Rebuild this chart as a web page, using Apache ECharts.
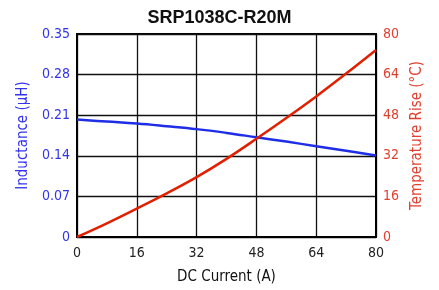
<!DOCTYPE html>
<html><head><meta charset="utf-8">
<script src="https://cdn.jsdelivr.net/npm/echarts@6/dist/echarts.min.js"></script>
<style>html,body{margin:0;padding:0;background:#fff}#c{width:439px;height:290px}</style>
</head><body><div id="c"></div>
<script>
const current = [0, 8, 16, 24, 32, 40, 48, 56, 64, 72, 80];
const inductance = [0.2025, 0.199, 0.1956, 0.191, 0.186, 0.1795, 0.172, 0.1645, 0.1566, 0.1488, 0.1407];
const tempRise = [0, 5.4, 11.2, 17.2, 23.6, 30.8, 38.7, 46.9, 55.4, 64.4, 73.7];
const font = '"Liberation Sans Narrow","DejaVu Sans Condensed",sans-serif';
const chart = echarts.init(document.getElementById('c'));
chart.setOption({
  animation: false,
  title: {text: 'SRP1038C-R20M', left: 'center', top: 4,
    textStyle: {fontFamily: 'Liberation Sans, Arial, sans-serif', fontWeight: 'bold', fontSize: 18, color: '#111'}},
  grid: {left: 77, right: 63, top: 34, bottom: 52, show: true, borderColor: '#000', borderWidth: 2, backgroundColor: 'transparent'},
  xAxis: {type: 'value', min: 0, max: 80, interval: 16,
    name: 'DC Current (A)', nameLocation: 'middle', nameGap: 33,
    nameTextStyle: {fontFamily: font, fontSize: 15, color: '#111'},
    axisLine: {lineStyle: {color: '#000', width: 2}},
    axisTick: {show: false},
    axisLabel: {fontFamily: font, fontSize: 14, color: '#222', margin: 9},
    splitLine: {show: true, lineStyle: {color: '#111', width: 1.3}}},
  yAxis: [
    {type: 'value', min: 0, max: 0.35, interval: 0.07, position: 'left',
     name: 'Inductance (\u00b5H)', nameLocation: 'middle', nameGap: 46,
     nameTextStyle: {fontFamily: font, fontSize: 15, color: '#3333ee'},
     axisLine: {show: true, lineStyle: {color: '#000', width: 2}},
     axisTick: {show: false},
     axisLabel: {fontFamily: font, fontSize: 14, color: '#3333ee', margin: 7,
       formatter: v => v === 0 ? '0' : v.toFixed(2)},
     splitLine: {show: true, lineStyle: {color: '#111', width: 1.3}}},
    {type: 'value', min: 0, max: 80, interval: 16, position: 'right',
     name: 'Temperature Rise (\u00b0C)', nameLocation: 'middle', nameGap: 34,
     nameRotate: 90,
     nameTextStyle: {fontFamily: font, fontSize: 15, color: '#e04030'},
     axisLine: {show: true, lineStyle: {color: '#000', width: 2}},
     axisTick: {show: false},
     axisLabel: {fontFamily: font, fontSize: 14, color: '#e04030', margin: 7},
     splitLine: {show: false}}
  ],
  series: [
    {type: 'line', yAxisIndex: 0, data: current.map((c, i) => [c, inductance[i]]),
     smooth: 0.4, showSymbol: false, lineStyle: {color: '#1e2ee6', width: 2.5}},
    {type: 'line', yAxisIndex: 1, data: current.map((c, i) => [c, tempRise[i]]),
     smooth: 0.4, showSymbol: false, lineStyle: {color: '#e02000', width: 2.5}}
  ]
});
</script></body></html>
